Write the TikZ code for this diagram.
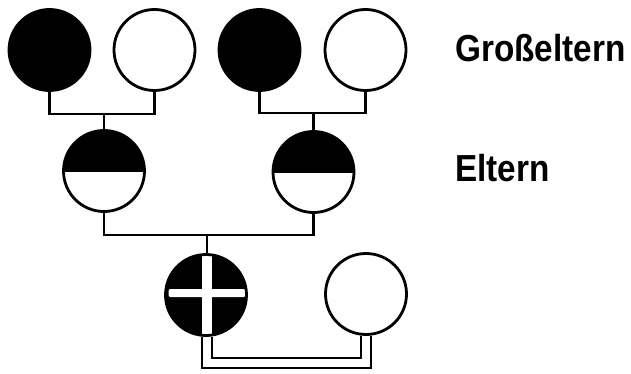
\documentclass[tikz,border=0pt]{standalone}
\usepackage{fontspec}
\newfontfamily\labfont{Liberation Sans}
\usetikzlibrary{backgrounds}
\tikzset{
  person/.style={circle, draw=black, line width=2.8pt, minimum size=81pt, inner sep=0pt, fill=white},
  fullp/.style={person, fill=black},
  halfp/.style={person, path picture={\fill[black] ([yshift=2pt]path picture bounding box.north west) rectangle ([yshift=-1pt]path picture bounding box.east);}},
  crossp/.style={person, fill=black, path picture={
      \fill[white] ([xshift=-4pt,yshift=2pt]path picture bounding box.north) rectangle ([xshift=6pt,yshift=-2pt]path picture bounding box.south);
      \fill[white, rounded corners=2pt] ([xshift=3pt,yshift=6pt]path picture bounding box.west) rectangle ([xshift=-1pt,yshift=-2pt]path picture bounding box.east);}},
  link/.style={draw=black, line width=2.8pt},
  dlink/.style={draw=black, line width=2.6pt, double=white, double distance=7.5pt},
  lab/.style={anchor=base west, inner sep=0pt, font=\labfont\bfseries\fontsize{33.3pt}{36pt}\selectfont}
}
\begin{document}
\begin{tikzpicture}[x=1pt,y=-1pt]
\useasboundingbox (0,0) rectangle (631,374);
% grandparents
\node[fullp] (g1) at (49.5,50) {};
\node[person] (g2) at (154.5,50) {};
\node[fullp] (g3) at (259.5,50) {};
\node[person] (g4) at (365.5,50) {};
% parents
\node[halfp] (p1) at (104,171) {};
\node[halfp] (p2) at (313.5,172) {};
% child and partner
\node[crossp] (c) at (206,295) {};
\node[person] (s) at (366,294) {};
% labels
\node[lab] (t1) at (455,62) {\scalebox{1}[1.13]{Großeltern}};
\node[lab] (t2) at (455,182) {\scalebox{1}[1.13]{Eltern}};
% connectors
\coordinate (m1) at (104,114);
\coordinate (m2) at (313.5,113);
\coordinate (m3) at (207,235);
\coordinate (d1) at (207,363);
\begin{scope}[on background layer]
\draw[link] (g1.south) |- (m1) -| (g2.south);
\draw[link] (m1) -- (p1.north);
\draw[link] (g3.south) |- (m2) -| (g4.south);
\draw[link] (m2) -- (p2.north);
\draw[link] (p1.south) |- (m3) -| (p2.south);
\draw[link] (m3) -- (c.north -| m3);
\draw[dlink] (c.south -| d1) -- (d1) -| (s.south);
\end{scope}
\end{tikzpicture}
\end{document}
